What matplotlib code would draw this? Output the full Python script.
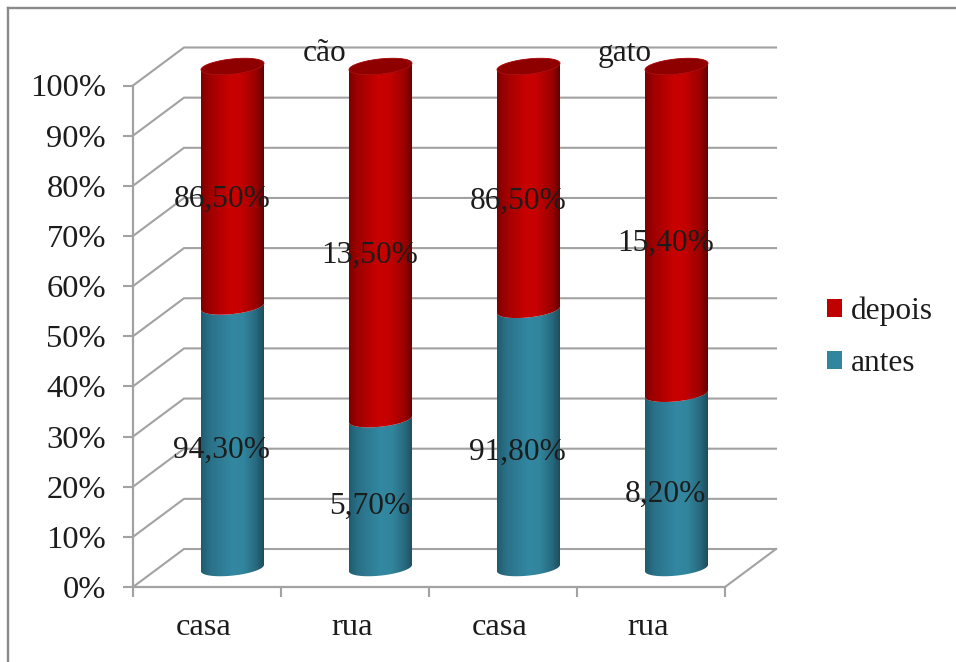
import numpy as np
import matplotlib
matplotlib.use("Agg")
import matplotlib.pyplot as plt
from matplotlib.colors import LinearSegmentedColormap
from matplotlib.patches import Patch, Polygon
from matplotlib.lines import Line2D

categories = ["casa", "rua", "casa", "rua"]
antes = [94.3, 5.7, 91.8, 8.2]
depois = [86.5, 13.5, 86.5, 15.4]
groups = ["cão", "gato"]
yticks = list(range(0, 101, 10))

W, H = 956, 662
plt.rcParams["font.family"] = ["Liberation Serif", "DejaVu Serif"]
FS = 22.6
FS_AX = 23.4
TXT = "#1c1c1c"
GRID = "#a2a2a2"

fig = plt.figure(figsize=(W / 100, H / 100), dpi=100, facecolor="white")
L, R, T, B = 133, 725, 85.5, 587
ax = fig.add_axes([L / W, 1 - B / H, (R - L) / W, (B - T) / H])
ax.set_facecolor("none")
ax.set_xlim(0, 4)
ax.set_ylim(0, 100)

px = 4 / (R - L)
py = 100 / (B - T)
dx, dy = 51 * px, 38 * py

# frame of the picture
for xs, ys in [((8, 8), (662, 7.5)), ((8, 956), (7.5, 7.5))]:
    fig.add_artist(Line2D([x / W for x in xs], [1 - y / H for y in ys], color="#8a8a8a", lw=1.7))

# walls
for v in yticks:
    ax.plot([0, dx, 4 + dx], [v, v + dy, v + dy], color=GRID, lw=1.5, clip_on=False, zorder=1,
            solid_joinstyle="miter")
ax.plot([4, 4 + dx], [0, dy], color=GRID, lw=1.5, clip_on=False, zorder=1)

for s in ("top", "right"):
    ax.spines[s].set_visible(False)
for s in ("left", "bottom"):
    ax.spines[s].set_color(GRID)
    ax.spines[s].set_linewidth(1.6)
    ax.spines[s].set_zorder(1)

ax.set_yticks(yticks)
ax.set_yticklabels([f"{v}%" for v in yticks])
ax.set_xticks(range(5))
ax.set_xticklabels([])
ax.set_xticks(np.arange(4) + 0.48, minor=True)
ax.set_xticklabels(categories, minor=True)
ax.tick_params(axis="y", length=7, width=1.5, color=GRID, labelsize=FS_AX, labelcolor=TXT, pad=12.5)
ax.tick_params(axis="x", which="major", length=7.5, width=1.5, color=GRID)
ax.tick_params(axis="x", which="minor", length=0, labelsize=FS_AX, labelcolor=TXT, pad=18.5)

red = LinearSegmentedColormap.from_list("r", [(0, "#7d0000"), (.12, "#9c0000"), (.45, "#c80000"),
                                              (.62, "#c60000"), (.88, "#9a0000"), (1, "#620000")])
teal = LinearSegmentedColormap.from_list("t", [(0, "#1f5c70"), (.15, "#2a7188"), (.5, "#3388a2"),
                                               (.68, "#31859c"), (.88, "#27697e"), (1, "#1d4c5c")])
grad = np.linspace(0, 1, 256).reshape(1, -1)

a = 31.5 * px           # half width of a column
b = 7.6 * py            # half height of its ends
tilt = 3.2 * py         # the ends lean up to the right
t = np.linspace(0, np.pi, 60)


def arc(cx, cy, ts):
    return cx + a * np.cos(ts), cy + b * np.sin(ts) + tilt * np.cos(ts)


def column(cx, y0, y1, cmap, z):
    xl, yl = arc(cx, y0, -t[::-1])      # front of the lower end, left to right
    xu, yu = arc(cx, y1, -t)            # front of the upper end, right to left
    poly = Polygon(np.c_[np.r_[xl, xu], np.r_[yl, yu]], closed=True, transform=ax.transData,
                   fc="none", ec="none", clip_on=False)
    ax.add_patch(poly)
    im = ax.imshow(grad, cmap=cmap, extent=(cx - a, cx + a, y0 - 2 * b, y1 + 2 * b), aspect="auto",
                   zorder=z, interpolation="bilinear")
    im.set_clip_box(fig.bbox)
    im.set_clip_path(poly)


for i, (u, v) in enumerate(zip(antes, depois)):
    share = u / (u + v) * 100
    cx = i + 0.5 + dx / 2
    base = dy / 2
    column(cx, base, base + share, teal, 3)
    column(cx, base + share, base + 100, red, 4)
    ts = np.linspace(0, 2 * np.pi, 120)
    ex, ey = arc(cx, base + 100, ts)
    ax.fill(ex, ey, fc="#8e0000", ec="#a80000", lw=0.6, zorder=5, clip_on=False)
    ax.text(i + 0.6, share / 2 + 1.2, f"{u:.2f}%".replace(".", ","), ha="center", va="center",
            fontsize=FS, color=TXT, zorder=6)
    ax.text(i + 0.6, (share + 100) / 2 + 1.2, f"{v:.2f}%".replace(".", ","), ha="center", va="center",
            fontsize=FS, color=TXT, zorder=6)

for g, x in zip(groups, (1.297, 3.32)):
    ax.text(x, 106.4, g, ha="center", va="center", fontsize=FS, color=TXT, zorder=6, clip_on=False)

handles = [Patch(fc="#c00000", ec="none"), Patch(fc="#31859c", ec="none")]
fig.legend(handles, ["depois", "antes"], loc="center left", bbox_to_anchor=(814 / W, 1 - 337.5 / H),
           frameon=False, fontsize=FS, labelcolor=TXT, handlelength=0.48, handleheight=0.5,
           handletextpad=0.3, labelspacing=0.72, borderpad=0, borderaxespad=0.4)

ax.set_xlim(0, 4)
ax.set_ylim(0, 100)
fig.savefig("out.png", dpi=100, facecolor="white")
